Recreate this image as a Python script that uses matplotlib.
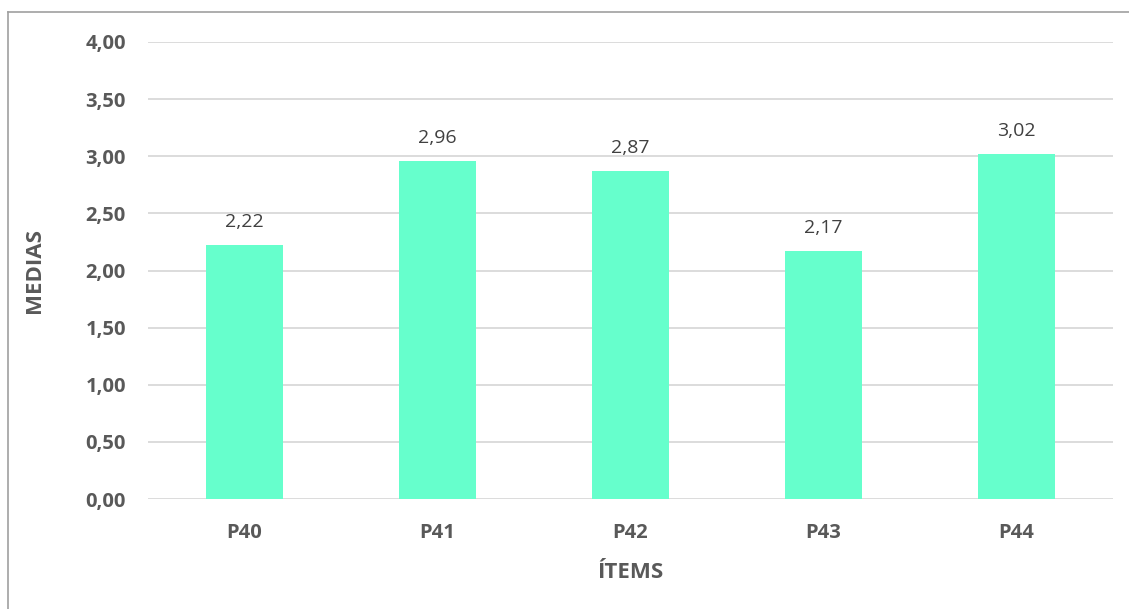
import matplotlib.pyplot as plt
from matplotlib.lines import Line2D

items = ['P40', 'P41', 'P42', 'P43', 'P44']
medias = [2.22, 2.96, 2.87, 2.17, 3.02]
yticks = [0.0, 0.5, 1.0, 1.5, 2.0, 2.5, 3.0, 3.5, 4.0]

plt.rcParams['font.family'] = ['Open Sans', 'DejaVu Sans']

W, H = 1129, 609
fig = plt.figure(figsize=(W / 100, H / 100), dpi=100)
ax = fig.add_axes([148 / W, 1 - 499 / H, (1113 - 148) / W, (499 - 42) / H])

x = range(len(items))
ax.bar(x, medias, width=0.4, color='#66FFCC', zorder=2)
for xi, v in zip(x, medias):
    ax.annotate(f'{v:.2f}'.replace('.', ','), (xi, v), xytext=(0, 10),
                textcoords='offset points', ha='center', va='bottom',
                fontsize=14, color='#404040')

ax.set_xlim(-0.5, len(items) - 0.5)
ax.set_ylim(0, 4)
ax.set_yticks(yticks)
ax.set_yticklabels([f'{t:.2f}'.replace('.', ',') for t in yticks])
ax.set_xticks(list(x))
ax.set_xticklabels(items)
ax.tick_params(length=0, labelsize=14.5, labelcolor='#595959')
ax.tick_params(axis='y', pad=16)
ax.tick_params(axis='x', pad=17)
for lab in ax.get_xticklabels() + ax.get_yticklabels():
    lab.set_fontweight('bold')

ax.grid(axis='y', color='#D9D9D9', linewidth=1.3, zorder=0)
for s in ax.spines.values():
    s.set_visible(False)

ax.set_ylabel('MEDIAS', fontsize=16, fontweight='bold', color='#595959')
ax.set_xlabel('ÍTEMS', fontsize=16, fontweight='bold', color='#595959')
ax.yaxis.set_label_coords((35 - 148) / 965, 0.5)
ax.xaxis.set_label_coords(0.5, (499 - 572) / 457)
ax.xaxis.label.set_va('center')
ax.yaxis.label.set_va('center')

# chart frame edges
fig.add_artist(Line2D([8 / W, 8 / W], [0, 1 - 12 / H], color='#A0A0A0', lw=1.2,
                      transform=fig.transFigure))
fig.add_artist(Line2D([8 / W, 1], [1 - 12 / H, 1 - 12 / H], color='#A0A0A0', lw=1.2,
                      transform=fig.transFigure))

fig.savefig('out.png', dpi=100)
